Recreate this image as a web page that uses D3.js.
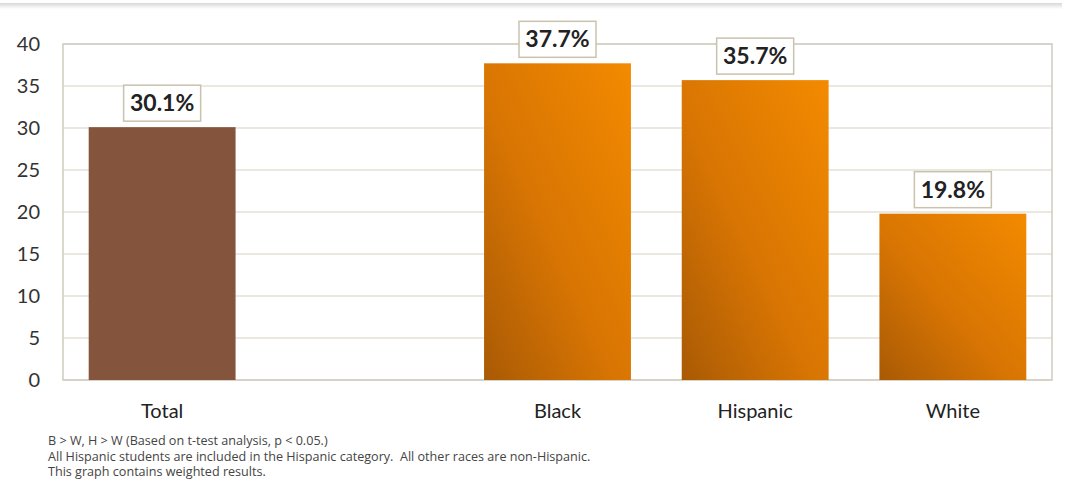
<!DOCTYPE html>
<html>
<head>
<meta charset="utf-8">
<script src="https://cdn.jsdelivr.net/npm/d3@7"></script>
<style>
  body { margin: 0; background: #fff; }
  svg { display: block; font-family: Lato, "Open Sans", sans-serif; }
</style>
</head>
<body>
<div id="chart"></div>
<script>
// data
var categories = ["Total", "gap", "Black", "Hispanic", "White"];
var values = [30.1, null, 37.7, 35.7, 19.8];
var valueLabels = ["30.1%", "", "37.7%", "35.7%", "19.8%"];
var yTicks = [0, 5, 10, 15, 20, 25, 30, 35, 40];
var notes = [
    "B > W, H > W (Based on t-test analysis, p < 0.05.)",
    "All Hispanic students are included in the Hispanic category.  All other races are non-Hispanic.",
    "This graph contains weighted results."
];

var svgWidth = 1067;
var svgHeight = 496;
var margin = { top: 44, right: 15, bottom: 116, left: 63 };
var width = svgWidth - margin.left - margin.right;
var height = svgHeight - margin.top - margin.bottom;

var svg = d3.select("#chart")
    .append("svg")
    .attr("width", svgWidth)
    .attr("height", svgHeight);

// gradient for the orange bars
var defs = svg.append("defs");
var grad = defs.append("linearGradient")
    .attr("id", "orangeGrad")
    .attr("x1", "0%").attr("y1", "100%")
    .attr("x2", "100%").attr("y2", "0%");
grad.append("stop").attr("offset", "0%").attr("stop-color", "#a95a05");
grad.append("stop").attr("offset", "45%").attr("stop-color", "#d87503");
grad.append("stop").attr("offset", "100%").attr("stop-color", "#f38a00");

var shadow = defs.append("linearGradient")
    .attr("id", "topShade")
    .attr("x1", "0").attr("y1", "0").attr("x2", "0").attr("y2", "1");
shadow.append("stop").attr("offset", "0%").attr("stop-color", "#d8d8d8");
shadow.append("stop").attr("offset", "100%").attr("stop-color", "#ffffff");

// thin shaded line at the very top
svg.append("rect")
    .attr("x", 0).attr("y", 3)
    .attr("width", 1062).attr("height", 6)
    .attr("fill", "url(#topShade)");

var g = svg.append("g")
    .attr("transform", "translate(" + margin.left + "," + margin.top + ")");

var x = d3.scaleBand()
    .domain(categories)
    .range([0, width])
    .paddingInner(0.257)
    .paddingOuter(0.13);

var y = d3.scaleLinear()
    .domain([0, 40])
    .range([height, 0]);

// grid lines
g.append("g")
    .selectAll("line")
    .data(yTicks)
    .enter()
    .append("line")
    .attr("x1", 0)
    .attr("x2", width)
    .attr("y1", d => y(d))
    .attr("y2", d => y(d))
    .attr("stroke", "#d6d1c4")
    .attr("stroke-width", 1.2);

// plot border
g.append("rect")
    .attr("x", 0).attr("y", 0)
    .attr("width", width).attr("height", height)
    .attr("fill", "none")
    .attr("stroke", "#cfcbbf")
    .attr("stroke-width", 1.5);

// y axis
var leftAxis = d3.axisLeft(y).tickValues(yTicks).tickSize(0).tickPadding(23);
var yAxis = g.append("g").call(leftAxis);
yAxis.select(".domain").remove();
yAxis.selectAll("text")
    .style("font-size", "20px")
    .style("font-family", "Lato, 'Open Sans', sans-serif")
    .attr("fill", "#333");

// x axis labels
var bottomAxis = d3.axisBottom(x).tickSize(0).tickPadding(24)
    .tickFormat(d => d === "gap" ? "" : d);
var xAxis = g.append("g")
    .attr("transform", "translate(0," + height + ")")
    .call(bottomAxis);
xAxis.select(".domain").remove();
xAxis.selectAll("text")
    .style("font-size", "20px")
    .style("font-family", "Lato, 'Open Sans', sans-serif")
    .attr("fill", "#222");

var barData = categories.map(function(c, i) {
    return { cat: c, value: values[i], label: valueLabels[i] };
}).filter(d => d.value !== null);

// bars
g.selectAll(".bar")
    .data(barData)
    .enter()
    .append("rect")
    .attr("class", "bar")
    .attr("x", d => x(d.cat))
    .attr("y", d => y(d.value))
    .attr("width", x.bandwidth())
    .attr("height", d => height - y(d.value))
    .attr("fill", d => d.cat === "Total" ? "#85543c" : "url(#orangeGrad)");

// value label boxes
var boxW = 77, boxH = 36;
var labels = g.selectAll(".vlabel")
    .data(barData)
    .enter()
    .append("g")
    .attr("class", "vlabel")
    .attr("transform", d => "translate(" + (x(d.cat) + x.bandwidth() / 2) + "," + (y(d.value) - 6 - boxH) + ")");

labels.append("rect")
    .attr("x", -boxW / 2)
    .attr("y", 0)
    .attr("width", boxW)
    .attr("height", boxH)
    .attr("fill", "#fff")
    .attr("stroke", "#c9c2ad")
    .attr("stroke-width", 1.5);

labels.append("text")
    .attr("x", 0)
    .attr("y", boxH / 2 + 8)
    .attr("text-anchor", "middle")
    .style("font-size", "23px")
    .style("font-weight", "bold")
    .attr("fill", "#222")
    .text(d => d.label);

// footnotes
svg.append("g")
    .selectAll("text")
    .data(notes)
    .enter()
    .append("text")
    .attr("x", 48)
    .attr("y", (d, i) => 445 + i * 15.5)
    .style("font-size", "12.6px")
    .style("font-family", "'Open Sans', sans-serif")
    .style("white-space", "pre")
    .attr("fill", "#444")
    .text(d => d);
</script>
</body>
</html>
